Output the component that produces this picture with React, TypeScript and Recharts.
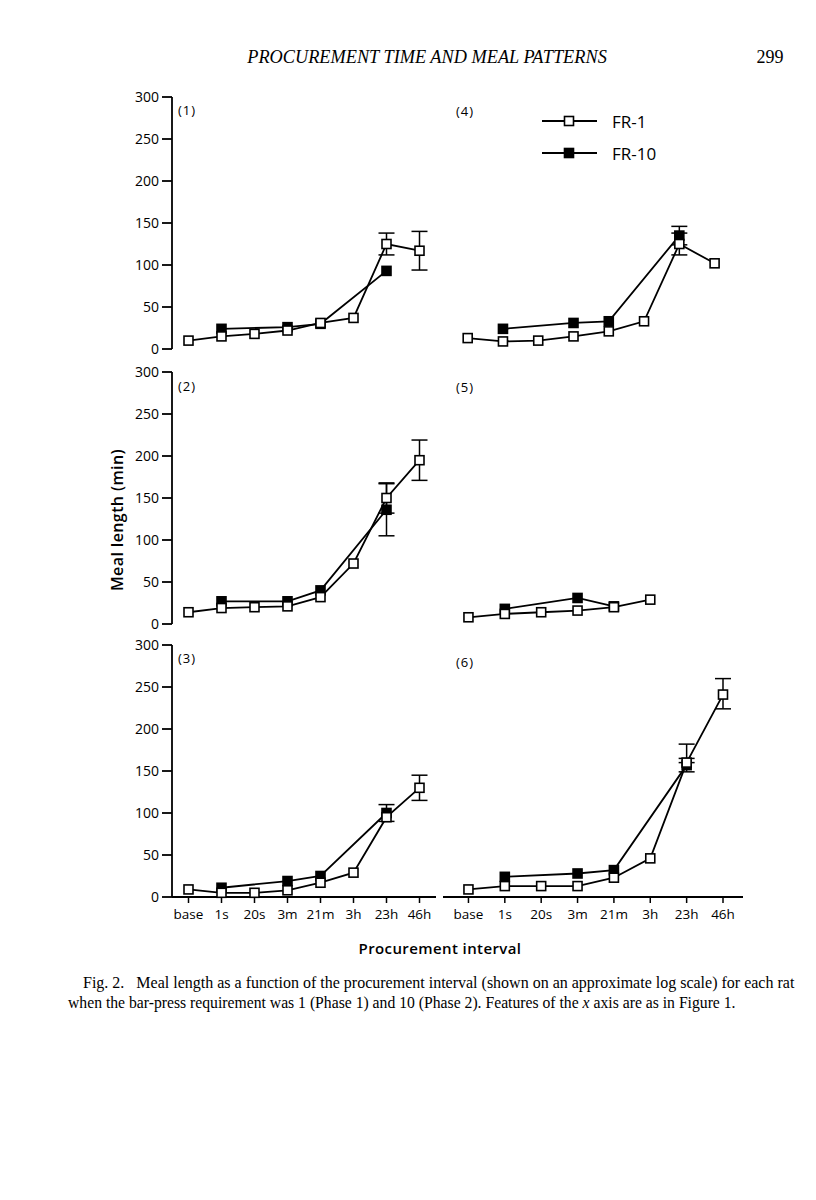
import React from "react";
import { LineChart, Line, XAxis, YAxis, ErrorBar } from "recharts";

const CATS = ["base", "1s", "20s", "3m", "21m", "3h", "23h", "46h"];
const X_TICKS = [0, 1, 2, 3, 4, 5, 6, 7];
const Y_TICKS = [0, 50, 100, 150, 200, 250, 300];

type V = number | null;
type E = number | [number, number] | null;

// rat 1
const R1_FR1: V[] = [10, 15, 18, 22, 31, 37, 125, 117];
const R1_FR10: V[] = [null, 24, null, 26, 30, null, 93, null];
const R1_FR1_ERR: E[] = [null, null, null, null, null, null, 13, 23];
const R1_FR10_ERR: E[] = [null, null, null, null, null, null, null, null];

// rat 2
const R2_FR1: V[] = [14, 19, 20, 21, 32, 72, 150, 195];
const R2_FR10: V[] = [null, 27, null, 27, 40, null, 136, null];
const R2_FR1_ERR: E[] = [null, null, null, null, null, null, 18, 24];
const R2_FR10_ERR: E[] = [null, null, null, null, null, null, 31, null];

// rat 3
const R3_FR1: V[] = [9, 5, 5, 8, 17, 29, 95, 130];
const R3_FR10: V[] = [null, 11, null, 19, 25, null, 100, null];
const R3_FR1_ERR: E[] = [null, null, null, null, null, null, null, 15];
const R3_FR10_ERR: E[] = [null, null, null, null, null, null, 10, null];

// rat 4
const R4_FR1: V[] = [13, 9, 10, 15, 21, 33, 125, 102];
const R4_FR10: V[] = [null, 24, null, 31, 33, null, 135, null];
const R4_FR1_ERR: E[] = [null, null, null, null, null, null, 13, null];
const R4_FR10_ERR: E[] = [null, null, null, null, null, null, 11, null];

// rat 5
const R5_FR1: V[] = [8, 12, 14, 16, 20, 29, null, null];
const R5_FR10: V[] = [null, 18, null, 31, 21, null, null, null];

// rat 6
const R6_FR1: V[] = [9, 13, 13, 13, 23, 46, 160, 241];
const R6_FR10: V[] = [null, 24, null, 28, 32, null, 157, null];
const R6_FR1_ERR: E[] = [null, null, null, null, null, null, [0, 22], [17, 19]];
const R6_FR10_ERR: E[] = [null, null, null, null, null, null, 8, null];

const NO_ERR: E[] = CATS.map(() => null);
const FONT = "'Open Sans', sans-serif";
const SERIF = "'Liberation Serif', serif";

const square = (fill: string) => (props: any) => {
  const { cx, cy, value, index } = props;
  if (cx == null || cy == null || value == null) return <g key={index} />;
  return (
    <rect
      key={index}
      x={cx - 4.5}
      y={cy - 4.5}
      width={9}
      height={9}
      fill={fill}
      stroke="#000"
      strokeWidth={1.6}
    />
  );
};

interface PanelProps {
  left: number;
  top: number;
  width: number;
  height: number;
  fr1: V[];
  fr10: V[];
  e1?: E[];
  e10?: E[];
  showY?: boolean;
  showX?: boolean;
  xDomain: [number, number];
}

function Panel({ left, top, width, height, fr1, fr10, e1 = NO_ERR, e10 = NO_ERR, showY, showX, xDomain }: PanelProps) {
  const rows = CATS.map((c, i) => ({
    i,
    cat: c,
    fr1: fr1[i],
    fr10: fr10[i],
    e1: e1[i] ?? undefined,
    e10: e10[i] ?? undefined,
  }));
  return (
    <div style={{ position: "absolute", left, top }}>
      <LineChart
        width={width}
        height={height}
        data={rows}
        margin={{ top: 10, right: showY ? 10 : 0, bottom: showX ? 5 : 10, left: 0 }}
        style={{ fontFamily: FONT }}
      >
        <XAxis
          dataKey="i"
          type="number"
          domain={xDomain}
          ticks={X_TICKS}
          interval={0}
          hide={!showX}
          height={30}
          tickFormatter={(v) => CATS[v]}
          tickSize={6}
          tickMargin={6}
          axisLine={{ stroke: "#000", strokeWidth: 1.8 }}
          tickLine={{ stroke: "#000", strokeWidth: 1.5 }}
          tick={{ fontSize: 13.5, fill: "#000", fontFamily: FONT, fontWeight: 500 }}
        />
        <YAxis
          type="number"
          domain={[0, 300]}
          ticks={Y_TICKS}
          interval={0}
          hide={!showY}
          width={72}
          tickSize={10}
          tickMargin={3}
          axisLine={{ stroke: "#000", strokeWidth: 1.8 }}
          tickLine={{ stroke: "#000", strokeWidth: 1.8 }}
          tick={{ fontSize: 14, fill: "#000", fontFamily: FONT, fontWeight: 500 }}
        />
        <Line
          dataKey="fr10"
          stroke="#000"
          strokeWidth={1.8}
          connectNulls
          isAnimationActive={false}
          dot={square("#000")}
          activeDot={false}
        >
          <ErrorBar dataKey="e10" width={8} stroke="#000" strokeWidth={1.5} direction="y" />
        </Line>
        <Line
          dataKey="fr1"
          stroke="#000"
          strokeWidth={1.8}
          connectNulls
          isAnimationActive={false}
          dot={square("#fff")}
          activeDot={false}
        >
          <ErrorBar dataKey="e1" width={8} stroke="#000" strokeWidth={1.5} direction="y" />
        </Line>
      </LineChart>
    </div>
  );
}

const txt = (x: number, y: number, s: string, style: React.CSSProperties = {}) => (
  <div
    style={{
      position: "absolute",
      left: x,
      top: y,
      transform: "translate(-50%, -50%)",
      whiteSpace: "nowrap",
      fontFamily: FONT,
      fontSize: 13,
      color: "#000",
      ...style,
    }}
  >
    {s}
  </div>
);

const LEFT_DOMAIN: [number, number] = [-0.5, 7.5];
const RIGHT_DOMAIN: [number, number] = [-0.7, 7.55];

export default function App() {
  return (
    <div style={{ position: "absolute", left: 0, top: 0, width: 816, height: 1200, background: "#fff", overflow: "hidden" }}>
      {/* running head */}
      {txt(427, 57, "PROCUREMENT TIME AND MEAL PATTERNS", { fontFamily: SERIF, fontStyle: "italic", fontSize: 18.3 })}
      {txt(770, 57, "299", { fontFamily: SERIF, fontSize: 18 })}

      <Panel left={100} top={87} width={346} height={272} fr1={R1_FR1} fr10={R1_FR10} e1={R1_FR1_ERR} e10={R1_FR10_ERR} showY xDomain={LEFT_DOMAIN} />
      <Panel left={100} top={362} width={346} height={272} fr1={R2_FR1} fr10={R2_FR10} e1={R2_FR1_ERR} e10={R2_FR10_ERR} showY xDomain={LEFT_DOMAIN} />
      <Panel left={100} top={635} width={346} height={297} fr1={R3_FR1} fr10={R3_FR10} e1={R3_FR1_ERR} e10={R3_FR10_ERR} showY showX xDomain={LEFT_DOMAIN} />
      <Panel left={443} top={87} width={291} height={272} fr1={R4_FR1} fr10={R4_FR10} e1={R4_FR1_ERR} e10={R4_FR10_ERR} xDomain={RIGHT_DOMAIN} />
      <Panel left={443} top={362} width={300} height={272} fr1={R5_FR1} fr10={R5_FR10} xDomain={RIGHT_DOMAIN} />
      <Panel left={443} top={635} width={300} height={297} fr1={R6_FR1} fr10={R6_FR10} e1={R6_FR1_ERR} e10={R6_FR10_ERR} showX xDomain={RIGHT_DOMAIN} />

      {/* panel numbers */}
      {txt(187, 110, "(1)", { letterSpacing: 1, fontWeight: 500 })}
      {txt(465, 111, "(4)", { letterSpacing: 1, fontWeight: 500 })}
      {txt(187, 386, "(2)", { letterSpacing: 1, fontWeight: 500 })}
      {txt(465, 387, "(5)", { letterSpacing: 1, fontWeight: 500 })}
      {txt(187, 658, "(3)", { letterSpacing: 1, fontWeight: 500 })}
      {txt(465, 662, "(6)", { letterSpacing: 1, fontWeight: 500 })}

      {/* legend */}
      <svg style={{ position: "absolute", left: 530, top: 105 }} width={70} height={60}>
        <line x1={12} y1={16} x2={67} y2={16} stroke="#000" strokeWidth={1.8} />
        <rect x={34.5} y={11.5} width={9} height={9} fill="#fff" stroke="#000" strokeWidth={1.6} />
        <line x1={12} y1={48} x2={67} y2={48} stroke="#000" strokeWidth={1.8} />
        <rect x={34.5} y={43.5} width={9} height={9} fill="#000" stroke="#000" strokeWidth={1.6} />
      </svg>
      <div style={{ position: "absolute", left: 612, top: 121, transform: "translateY(-50%)", fontFamily: FONT, fontSize: 17, fontWeight: 500 }}>FR-1</div>
      <div style={{ position: "absolute", left: 612, top: 153, transform: "translateY(-50%)", fontFamily: FONT, fontSize: 17, fontWeight: 500 }}>FR-10</div>

      {/* axis titles */}
      {txt(117, 520, "Meal length (min)", { fontSize: 16, fontWeight: 600, letterSpacing: 0.4, transform: "translate(-50%, -50%) rotate(-90deg)" })}
      {txt(440, 948, "Procurement interval", { fontSize: 15, fontWeight: 600, letterSpacing: 0.4 })}

      {/* caption */}
      <div style={{ position: "absolute", left: 83, top: 983, transform: "translateY(-50%)", whiteSpace: "nowrap", fontFamily: SERIF, fontSize: 16 }}>
        Fig. 2.&nbsp;&nbsp; Meal length as a function of the procurement interval (shown on an approximate log scale) for each rat
      </div>
      <div style={{ position: "absolute", left: 68, top: 1003, transform: "translateY(-50%)", whiteSpace: "nowrap", fontFamily: SERIF, fontSize: 15.7 }}>
        when the bar-press requirement was 1 (Phase 1) and 10 (Phase 2). Features of the <i>x</i> axis are as in Figure 1.
      </div>
    </div>
  );
}
